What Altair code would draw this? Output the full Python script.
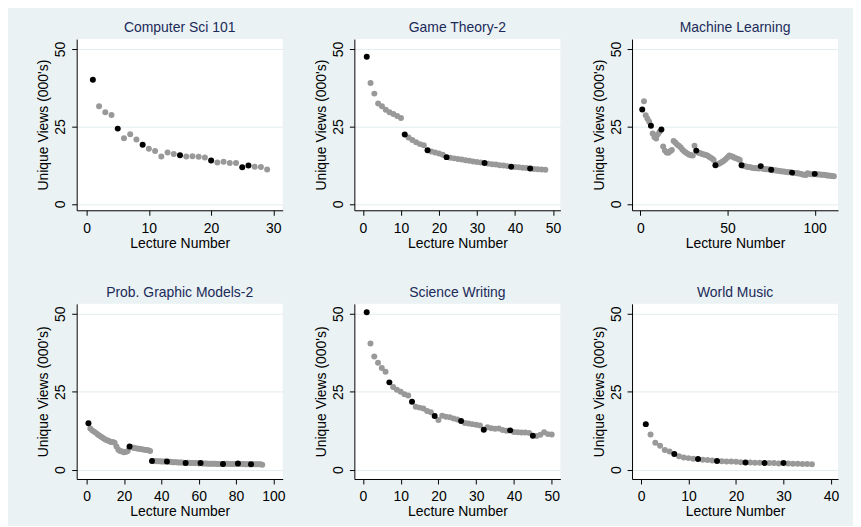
import altair as alt
import pandas as pd

# ---------------- data ----------------
courses = ["Computer Sci 101", "Game Theory-2", "Machine Learning",
           "Prob. Graphic Models-2", "Science Writing", "World Music"]

cs101_views = [40.1, 31.5, 29.6, 28.7, 24.3, 21.2, 22.5, 20.8, 19.1, 17.8,
               17.1, 15.3, 16.6, 16.1, 15.7, 15.3, 15.4, 15.2, 15.0, 14.0,
               13.4, 13.6, 13.2, 13.2, 11.8, 12.4, 12.0, 11.9, 11.1]
cs101_marked = [1, 5, 9, 15, 20, 25, 26]

gt_views = [47.5, 39.0, 35.6, 32.4, 31.5, 30.4, 29.6, 29.0, 28.4, 27.7,
            22.4, 21.4, 20.6, 19.9, 19.3, 18.9, 17.3, 16.9, 16.6, 16.3,
            15.9, 15.1, 14.9, 14.7, 14.5, 14.3, 14.1, 13.9, 13.7, 13.5,
            13.4, 13.2, 13.0, 12.8, 12.7, 12.5, 12.4, 12.2, 12.0, 11.9,
            11.8, 11.7, 11.6, 11.4, 11.3, 11.2, 11.1, 11.0]
gt_marked = [1, 11, 17, 22, 32, 39, 44]

ml_views = [30.5, 33.1, 28.6, 27.5, 26.5, 25.2, 22.7, 21.6, 21.1, 22.5,
            23.3, 24.0, 18.5, 17.2, 16.6, 16.5, 17.0, 17.4, 20.3, 19.8,
            19.2, 18.8, 18.3, 17.6, 17.0, 16.6, 16.2, 15.9, 15.7, 15.6,
            18.8, 17.2, 16.6, 16.4, 16.2, 16.0, 15.9, 15.7, 15.4, 15.0,
            14.7, 14.2, 12.5, 12.7, 13.0, 13.3, 13.6, 14.0, 14.5, 15.1,
            15.6, 15.4, 15.2, 14.9, 14.7, 14.5, 14.2, 12.5, 12.3, 12.2,
            12.0, 11.9, 11.8, 11.7, 11.6, 11.5, 11.5, 11.4, 12.2, 11.4,
            11.3, 11.2, 11.2, 11.1, 11.0, 10.9, 10.9, 10.8, 10.7, 10.6,
            10.5, 10.5, 10.4, 10.3, 10.2, 10.2, 10.1, 10.0, 10.0, 9.9,
            9.8, 9.7, 9.5, 9.4, 9.3, 9.9, 9.7, 9.6, 9.6, 9.7,
            9.6, 9.5, 9.5, 9.4, 9.4, 9.3, 9.2, 9.2, 9.1, 9.0, 8.9]
ml_marked = [1, 6, 12, 32, 43, 58, 69, 75, 87, 100]

pgm_views = [14.9, 13.2, 12.6, 12.2, 11.8, 11.3, 10.9, 10.5, 10.1, 9.7,
             9.4, 9.2, 8.9, 8.9, 8.6, 7.4, 6.4, 6.0, 5.8, 5.6,
             5.7, 6.0, 7.4, 7.2, 7.0, 6.9, 6.8, 6.7, 6.6, 6.5,
             6.4, 6.3, 6.2, 6.0, 2.8, 2.8, 2.7, 2.7, 2.7, 2.6,
             2.6, 2.6, 2.6, 2.5, 2.5, 2.4, 2.4, 2.4, 2.3, 2.3,
             2.3, 2.2, 2.1, 2.2, 2.2, 2.1, 2.1, 2.1, 2.1, 2.0,
             2.1, 2.0, 2.0, 2.0, 1.9, 1.9, 1.9, 1.9, 1.9, 1.8,
             1.8, 1.8, 1.8, 1.9, 1.9, 1.9, 1.8, 1.8, 1.8, 1.8,
             2.0, 1.8, 1.8, 1.8, 1.7, 1.7, 1.7, 1.7, 1.7, 1.7,
             1.7, 1.7, 1.7, 1.6]
pgm_marked = [1, 23, 35, 43, 53, 61, 73, 81, 88]

sw_views = [50.5, 40.5, 36.3, 34.3, 32.6, 31.4, 28.0, 26.5, 25.6, 25.0,
            24.2, 23.8, 21.8, 20.2, 19.9, 19.6, 18.8, 18.4, 17.2, 15.9,
            17.3, 17.0, 16.8, 16.4, 16.1, 15.6, 15.0, 14.8, 14.6, 14.4,
            14.2, 12.8, 13.6, 13.3, 13.1, 13.2, 12.7, 12.5, 12.6, 12.1,
            12.0, 11.9, 11.9, 11.8, 10.9, 10.8, 11.2, 12.0, 11.4, 11.3]
sw_marked = [1, 7, 13, 19, 26, 32, 39, 45]

wm_views = [14.6, 11.3, 8.6, 7.7, 6.3, 5.8, 5.0, 4.3, 3.9, 3.7,
            3.5, 3.4, 3.2, 3.1, 2.9, 2.8, 2.7, 2.6, 2.6, 2.5,
            2.4, 2.3, 2.3, 2.2, 2.2, 2.1, 2.1, 2.1, 2.0, 2.1,
            2.0, 1.9, 1.9, 1.8, 1.8, 1.7]
wm_marked = [1, 7, 12, 16, 22, 26, 30]

x_ticks = [[0, 10, 20, 30], [0, 10, 20, 30, 40, 50], [0, 50, 100],
           [0, 20, 40, 60, 80, 100], [0, 10, 20, 30, 40, 50], [0, 10, 20, 30, 40]]
y_ticks = [0, 25, 50]

# ---------------- table ----------------
series = [cs101_views, gt_views, ml_views, pgm_views, sw_views, wm_views]
marks = [cs101_marked, gt_marked, ml_marked, pgm_marked, sw_marked, wm_marked]
rows = []
for name, views, marked in zip(courses, series, marks):
    for i, v in enumerate(views, start=1):
        rows.append({"course": name, "lecture": i, "views": v,
                     "marked": 1 if i in marked else 0})
df = pd.DataFrame(rows)

# axis ranges (plot-region extents incl. Stata margins)
x_domains = [[-1.6, 31.5], [-2.26, 51.95], [-4.85, 113.4],
             [-5.3, 104.95], [-2.27, 52.3], [-1.9, 41.5]]
y_domains = [[-2.05, 53.2], [-3.0, 53.2]]
heights = [172, 176]

FONT = "Liberation Sans"


def panel(idx):
    name = courses[idx]
    row = idx // 3
    base = alt.Chart(df).transform_filter(alt.datum.course == name)
    x = alt.X("lecture:Q",
              scale=alt.Scale(domain=x_domains[idx], nice=False, zero=False),
              axis=alt.Axis(values=x_ticks[idx], title="Lecture Number"))
    y = alt.Y("views:Q",
              scale=alt.Scale(domain=y_domains[row], nice=False, zero=False),
              axis=alt.Axis(values=y_ticks, title="Unique Views (000's)"))
    gray = base.transform_filter(alt.datum.marked == 0).mark_circle(
        size=36, color="#999999", opacity=1).encode(x=x, y=y)
    black = base.transform_filter(alt.datum.marked == 1).mark_circle(
        size=36, color="#000000", opacity=1).encode(x=x, y=y)
    return alt.layer(gray, black).properties(
        width=207, height=heights[row],
        title=alt.TitleParams(name, frame="group", anchor="middle"))


chart = alt.concat(
    *[panel(i) for i in range(6)],
    columns=3,
    spacing={"row": 94, "column": 72},
    bounds="flush",
    align="each",
).properties(
    padding={"left": 29, "top": 12, "right": 14, "bottom": 6},
    background="#EAF2F3",
).configure_view(
    fill="white", stroke=None
).configure_axis(
    labelFont=FONT, titleFont=FONT, labelFontSize=14, titleFontSize=14,
    titleFontWeight="normal", labelColor="#000000", titleColor="#000000",
    domainColor="#000000", tickColor="#000000", tickSize=5,
    domainWidth=1, tickWidth=1, grid=False,
).configure_axisY(
    grid=True, gridColor="#E3ECEE", gridWidth=1,
    labelAngle=270, labelAlign="center", labelBaseline="bottom",
    labelPadding=4, titlePadding=3,
).configure_axisX(
    labelPadding=6, titlePadding=1,
).configure_title(
    font=FONT, fontSize=14, fontWeight="normal", color="#1C2A5A", offset=4,
)

chart.save("out.html", embed_options={"renderer": "svg", "actions": False})
